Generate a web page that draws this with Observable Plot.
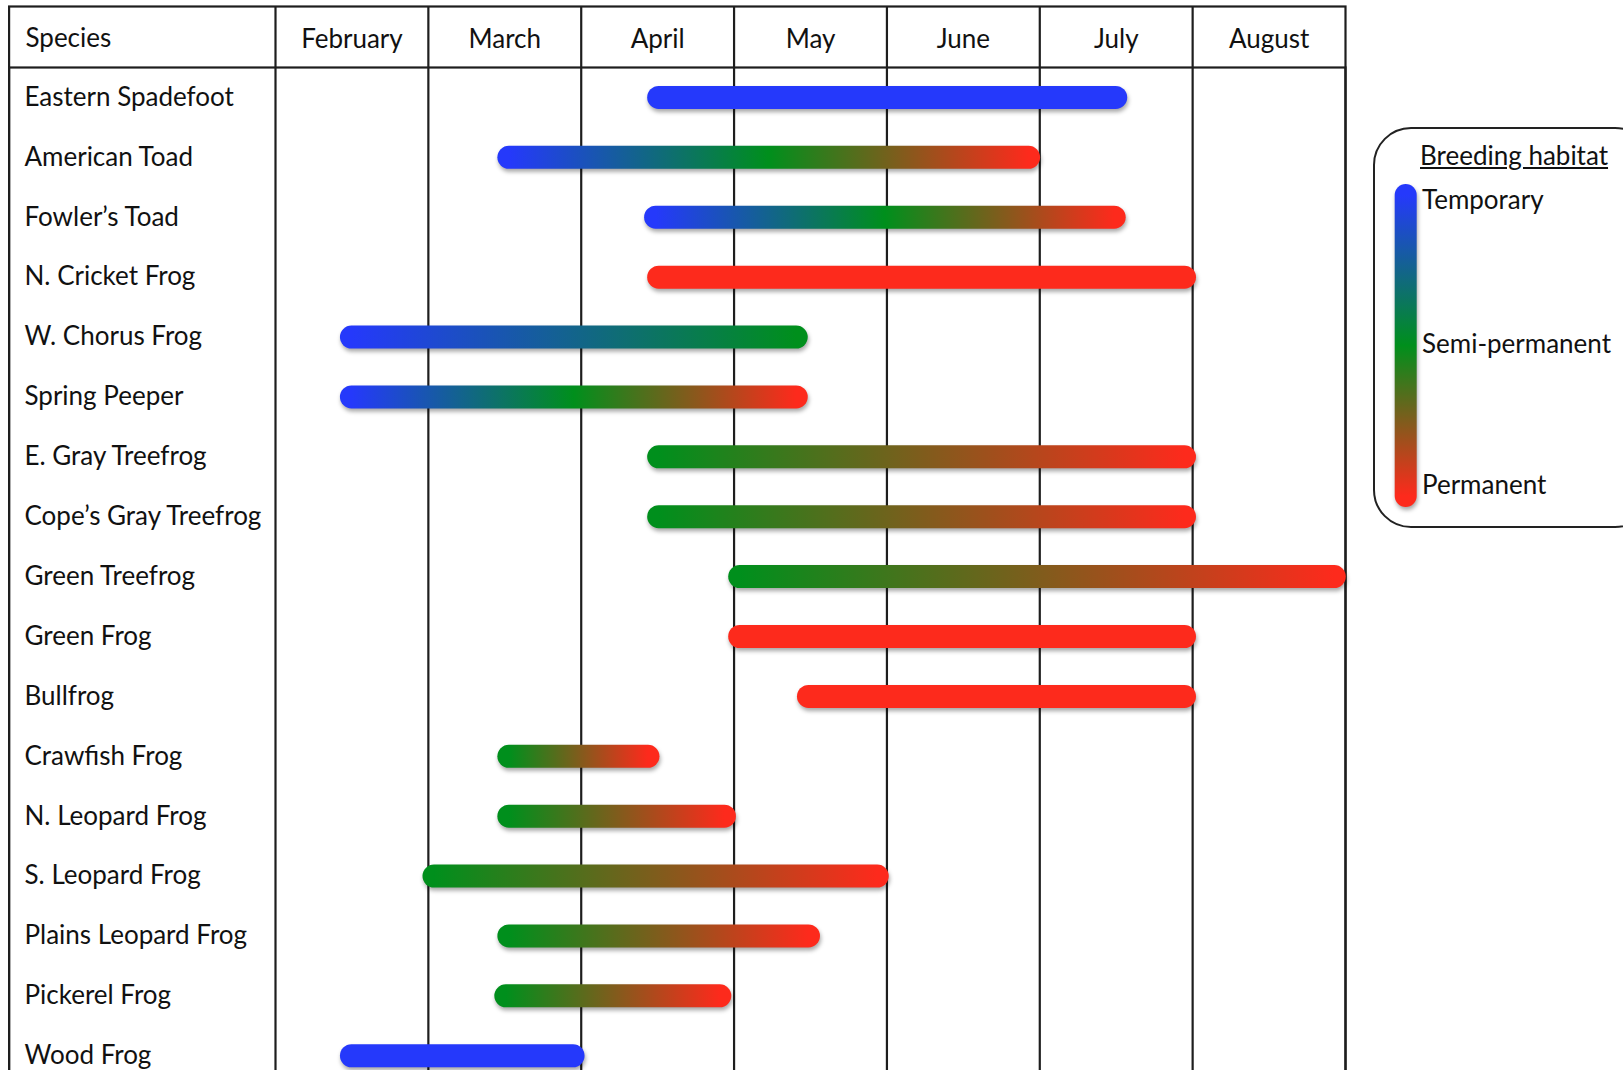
<!DOCTYPE html>
<html><head><meta charset="utf-8">
<script src="https://cdn.jsdelivr.net/npm/d3@7"></script>
<script src="https://cdn.jsdelivr.net/npm/@observablehq/plot@0.6"></script>
<style>
html,body{margin:0;padding:0;background:#fff;overflow:hidden;}
#wrap{position:relative;width:1623px;height:1070px;overflow:hidden;font-family:Lato, "Open Sans", sans-serif;color:#111;}
#wrap svg.chart{position:absolute;left:0;top:0;}
#legend{position:absolute;left:1373px;top:127px;width:280px;height:401px;border:2px solid #222;border-radius:38px;box-sizing:border-box;background:#fff;}
.lg{position:absolute;font-size:26px;line-height:30px;white-space:nowrap;}
</style></head><body><div id="wrap"></div>
<script>
// ---- data ----
const species = ["Eastern Spadefoot","American Toad","Fowler’s Toad","N. Cricket Frog","W. Chorus Frog","Spring Peeper","E. Gray Treefrog","Cope’s Gray Treefrog","Green Treefrog","Green Frog","Bullfrog","Crawfish Frog","N. Leopard Frog","S. Leopard Frog","Plains Leopard Frog","Pickerel Frog","Wood Frog"];
// season start / end in month units (2 = 1 February … 9 = 1 September)
const seasonStart = [4.51, 3.53, 4.49, 4.51, 2.50, 2.50, 4.51, 4.51, 5.04, 5.04, 5.49, 3.53, 3.53, 3.04, 3.53, 3.51, 2.50];
const seasonEnd   = [7.50, 6.93, 7.49, 7.95, 5.41, 5.41, 7.95, 7.95, 8.93, 7.95, 7.95, 4.44, 4.94, 5.94, 5.49, 4.91, 3.95];
// breeding habitat at start / end of season (0 = temporary, 0.5 = semi-permanent, 1 = permanent)
const habitatStart = [0, 0, 0, 1, 0, 0, 0.5, 0.5, 0.5, 1, 1, 0.5, 0.5, 0.5, 0.5, 0.5, 0];
const habitatEnd   = [0, 1, 1, 1, 0.5, 1, 1, 1, 1, 1, 1, 1, 1, 1, 1, 1, 0];
const months = ["February","March","April","May","June","July","August"];
const monthBoundaries = [2, 3, 4, 5, 6, 7, 8];
const habitatLevels = [0, 0.5, 1];
const habitatLabels = ["Temporary", "Semi-permanent", "Permanent"];
const habitatColors = ["#2539fb", "#008f1c", "#fd2a1c"];

const data = species.map((s, i) => ({species: s, start: seasonStart[i], end: seasonEnd[i], h0: habitatStart[i], h1: habitatEnd[i]}));

const color = Plot.scale({color: {type: "linear", domain: habitatLevels, range: habitatColors, interpolate: "rgb"}});

const lineColor = "#1e1e1e";
const plot = Plot.plot({
  width: 1623,
  height: 1091,
  marginLeft: 275,
  marginRight: 278,
  marginTop: 67,
  marginBottom: 5.8,
  style: {fontFamily: "Lato, 'Open Sans', sans-serif", fontSize: "26px", color: "#111", background: "transparent"},
  x: {domain: [2, 9], axis: null},
  y: {domain: species, axis: null, paddingInner: 0, paddingOuter: 0.177, round: false},
  marks: [
    Plot.ruleX(monthBoundaries, {x: d => d, insetTop: -61, stroke: lineColor, strokeWidth: 2.2}),
    Plot.frame({insetTop: -61, insetLeft: -266.4, stroke: lineColor, strokeWidth: 2.2}),
    Plot.frame({insetLeft: -266.4, stroke: lineColor, strokeWidth: 2.2}),
    Plot.text(["Species"], {frameAnchor: "top-left", dx: -250, dy: -29, textAnchor: "start", lineAnchor: "middle", fontSize: 26}),
    Plot.text(months, {x: (d, i) => monthBoundaries[i] + 0.5, frameAnchor: "top", dy: -28, lineAnchor: "middle", fontSize: 26}),
    Plot.text(species, {y: d => d, frameAnchor: "left", textAnchor: "start", dx: -251, dy: 0, fontSize: 26}),
    Plot.ruleY(data, {y: "species", x1: "start", x2: "end", stroke: "#888", strokeWidth: 23, strokeLinecap: "round", ariaDescription: "bars"})
  ]
});
plot.classList.add("chart");
document.getElementById("wrap").appendChild(plot);

// gradients along each bar (user space, from the bar's own x scale positions)
const ns = "http://www.w3.org/2000/svg";
const defs = document.createElementNS(ns, "defs");
plot.insertBefore(defs, plot.firstChild);
function addGradient(id, x1, y1, x2, y2, h0, h1) {
  const g = document.createElementNS(ns, "linearGradient");
  g.setAttribute("id", id);
  g.setAttribute("gradientUnits", "userSpaceOnUse");
  g.setAttribute("x1", x1); g.setAttribute("y1", y1);
  g.setAttribute("x2", x2); g.setAttribute("y2", y2);
  const stops = [[0, h0]];
  habitatLevels.forEach(h => { if (h > Math.min(h0, h1) && h < Math.max(h0, h1)) stops.push([(h - h0) / (h1 - h0), h]); });
  stops.push([1, h1]);
  for (const [o, h] of stops) {
    const s = document.createElementNS(ns, "stop");
    s.setAttribute("offset", o);
    s.setAttribute("stop-color", color.apply(h));
    g.appendChild(s);
  }
  defs.appendChild(g);
}
const ruleGroups = plot.querySelectorAll('g[aria-label="rule"]');
const barGroup = plot.querySelector('g[aria-description="bars"]') || ruleGroups[ruleGroups.length - 1];
barGroup.style.filter = "drop-shadow(1px 3px 2px rgba(0,0,0,0.35))";
barGroup.querySelectorAll("line").forEach((ln, i) => {
  const d = data[i];
  const id = "bar-grad-" + i;
  addGradient(id, ln.getAttribute("x1"), 0, ln.getAttribute("x2"), 0, d.h0, d.h1);
  ln.setAttribute("stroke", `url(#${id})`);
});

// ---- legend ----
const wrap = document.getElementById("wrap");
const legend = document.createElement("div");
legend.id = "legend";
wrap.appendChild(legend);
const title = document.createElement("div");
title.className = "lg";
title.textContent = "Breeding habitat";
title.style.left = "1420px"; title.style.top = "140px"; title.style.textDecoration = "underline";
wrap.appendChild(title);

const lsvg = document.createElementNS(ns, "svg");
lsvg.setAttribute("width", 40); lsvg.setAttribute("height", 360);
lsvg.style.position = "absolute"; lsvg.style.left = "1386px"; lsvg.style.top = "170px";
const ldefs = document.createElementNS(ns, "defs");
lsvg.appendChild(ldefs);
const lg = document.createElementNS(ns, "linearGradient");
lg.setAttribute("id", "legend-grad"); lg.setAttribute("gradientUnits", "userSpaceOnUse");
lg.setAttribute("x1", 0); lg.setAttribute("x2", 0); lg.setAttribute("y1", 25); lg.setAttribute("y2", 326);
habitatLevels.forEach(h => {
  const s = document.createElementNS(ns, "stop");
  s.setAttribute("offset", h); s.setAttribute("stop-color", color.apply(h)); lg.appendChild(s);
});
ldefs.appendChild(lg);
const lline = document.createElementNS(ns, "line");
lline.setAttribute("x1", 19.7); lline.setAttribute("x2", 19.7);
lline.setAttribute("y1", 25); lline.setAttribute("y2", 326);
lline.setAttribute("stroke", "url(#legend-grad)"); lline.setAttribute("stroke-width", 22);
lline.setAttribute("stroke-linecap", "round");
lline.style.filter = "drop-shadow(1px 3px 2px rgba(0,0,0,0.35))";
lsvg.appendChild(lline);
wrap.appendChild(lsvg);

const labelTops = [184, 328, 469];
habitatLabels.forEach((t, i) => {
  const el = document.createElement("div");
  el.className = "lg"; el.textContent = t;
  el.style.left = "1422px"; el.style.top = labelTops[i] + "px";
  wrap.appendChild(el);
});
</script></body></html>
